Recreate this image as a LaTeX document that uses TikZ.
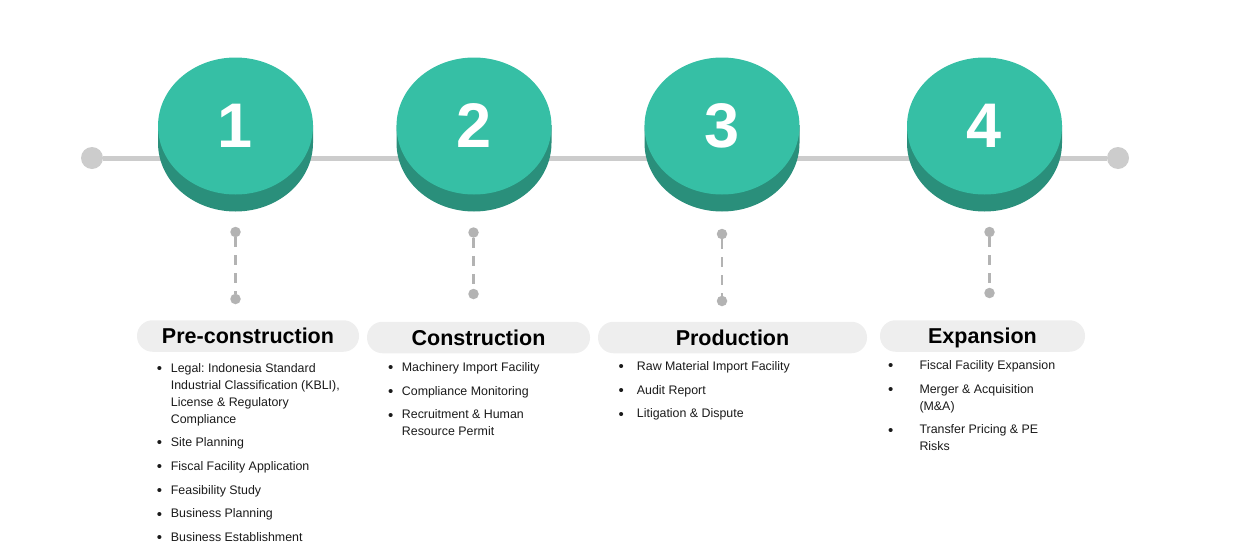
\documentclass[tikz,border=0pt]{standalone}
\usepackage{fontspec}
\setmainfont{Liberation Sans}
\usetikzlibrary{shapes.geometric}

\definecolor{tealtop}{HTML}{36BFA5}
\definecolor{tealside}{HTML}{2A8F7B}
\definecolor{linegray}{HTML}{CCCCCC}
\definecolor{pingray}{HTML}{B3B3B3}
\definecolor{pillgray}{HTML}{EEEEEE}
\definecolor{inkgray}{HTML}{1A1A1A}

\newcommand{\nextitem}{\\[6.7pt]}
\newcommand{\bul}{\raisebox{-1.2pt}{\fontsize{15}{17}\selectfont\textbullet}}

\tikzset{
	disctop/.style={ellipse, fill=tealtop, minimum width=155pt, minimum height=137pt, inner sep=0pt, text=white, font=\fontsize{63}{63}\selectfont\bfseries},
	pill/.style={fill=pillgray, rounded corners=15.5pt, minimum height=31.5pt, inner sep=0pt, text height=15.3pt, text depth=0pt, text=black, font=\fontsize{21.5}{24}\selectfont\bfseries},
	itemlist/.style={anchor=base west, inner sep=0pt, text=inkgray, font=\fontsize{12.4}{17}\selectfont\frenchspacing},
	enddot/.style={circle, fill=linegray, minimum size=22pt, inner sep=0pt},
	pin/.style={circle, fill=pingray, minimum size=10.5pt, inner sep=0pt},
	timeline/.style={draw=linegray, line width=5pt},
	pinline/.style={draw=pingray, line width=2.5pt, dash pattern=on 10pt off 8pt}
}

\begin{document}
\begin{tikzpicture}[x=1pt,y=-1pt]
	\useasboundingbox (0,0) rectangle (1253,557);
	%Definitions%
	%===========================================================
	\def \Rx {77.5}; %half width of a disc
	\def \Ry {68.5}; %half height of a disc
	\def \Cy {125}; %centre of the disc tops
	\def \Th {18}; %thickness of a disc
	%Timeline%
	%===========================================================
	\node[enddot] (tstart) at (92,158) {};
	\node[enddot] (tend) at (1118,158) {};
	\draw[timeline] (tstart) -- (tend); %grey line behind the discs
	%Discs and pins%
	%===========================================================
	\foreach \i/\cx in {1/235.5, 2/474, 3/722, 4/984.5}{
		\fill[tealside] (\cx-\Rx,\Cy) -- (\cx-\Rx,\Cy+\Th) arc (180:360:\Rx pt and \Ry pt) -- (\cx+\Rx,\Cy) -- cycle; %side of the disc
		\node[disctop] (disc\i) at (\cx,\Cy+1) {\i}; %top of the disc
	}
	\foreach \i/\px/\yt/\yb in {1/235.5/232/299, 2/473.5/232.5/294, 3/722/234/301, 4/989.5/232/293}{
		\node[pin] (pt\i) at (\px,\yt) {};
		\node[pin] (pb\i) at (\px,\yb) {};
		\draw[pinline] (pt\i) -- (pb\i); %dashed pin
	}
	%Headings%
	%===========================================================
	\node[pill, minimum width=222pt] (head1) at (248,336) {Pre-construction};
	\node[pill, minimum width=223pt] (head2) at (478.5,337.5) {Construction};
	\node[pill, minimum width=269pt] (head3) at (732.5,337.5) {Production};
	\node[pill, minimum width=205pt] (head4) at (982.5,336) {Expansion};
	%Lists%
	%===========================================================
	\node[itemlist] (list1) at (156.6,372) {\begin{tabular}[t]{@{}p{14.1pt}@{}l@{}}
		\bul & Legal: Indonesia Standard\\
		& Industrial Classification (KBLI),\\
		& License \& Regulatory\\
		& Compliance\nextitem
		\bul & Site Planning\nextitem
		\bul & Fiscal Facility Application\nextitem
		\bul & Feasibility Study\nextitem
		\bul & Business Planning\nextitem
		\bul & Business Establishment
	\end{tabular}};
	\node[itemlist] (list2) at (388,371.5) {\begin{tabular}[t]{@{}p{13.7pt}@{}l@{}}
		\bul & Machinery Import Facility\nextitem
		\bul & Compliance Monitoring\nextitem
		\bul & Recruitment \& Human\\
		& Resource Permit
	\end{tabular}};
	\node[itemlist] (list3) at (618.4,370.5) {\begin{tabular}[t]{@{}p{18.3pt}@{}l@{}}
		\bul & Raw Material Import Facility\nextitem
		\bul & Audit Report\nextitem
		\bul & Litigation \& Dispute
	\end{tabular}};
	\node[itemlist] (list4) at (888,369.5) {\begin{tabular}[t]{@{}p{31.3pt}@{}l@{}}
		\bul & Fiscal Facility Expansion\nextitem
		\bul & Merger \& Acquisition\\
		& (M\&A)\nextitem
		\bul & Transfer Pricing \& PE\\
		& Risks
	\end{tabular}};
\end{tikzpicture}
\end{document}
